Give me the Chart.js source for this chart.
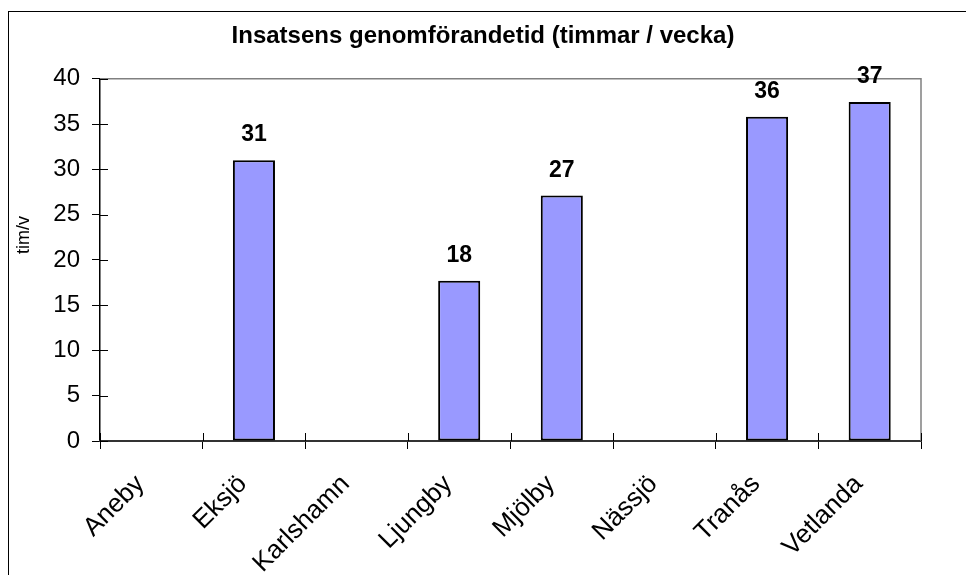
<!DOCTYPE html>
<html>
<head>
<meta charset="utf-8">
<script src="https://cdn.jsdelivr.net/npm/chart.js@4/dist/chart.umd.min.js"></script>
<style>
  html,body{margin:0;padding:0;background:#fff;overflow:hidden}
  #frame{position:absolute;left:8px;top:11px;width:1100px;height:700px;border:1px solid #000}
  #wrap{position:absolute;left:0;top:0;width:966px;height:575px}
</style>
</head>
<body>
<div id="frame"></div>
<div id="wrap"><canvas id="c"></canvas></div>
<script>
// data
const kommuner=['Aneby','Eksjö','Karlshamn','Ljungby','Mjölby','Nässjö','Tranås','Vetlanda'];
const timmar=[null,31,null,17.7,27.1,null,35.8,37.45];
const yTicks=[0,5,10,15,20,25,30,35,40];
const titel='Insatsens genomförandetid (timmar / vecka)';
const yTitel='tim/v';

const FONT='"Liberation Sans", Arial, sans-serif';

// inre tickstreck, ram, y-titel och värdeetiketter
const extras={
  id:'extras',
  afterDraw(chart){
    const ctx=chart.ctx, a=chart.chartArea, x=chart.scales.x, y=chart.scales.y;
    ctx.save();
    // grå ram topp/höger
    ctx.strokeStyle='#808080'; ctx.lineWidth=1.5;
    ctx.beginPath(); ctx.moveTo(a.left,a.top); ctx.lineTo(a.right,a.top); ctx.lineTo(a.right,a.bottom); ctx.stroke();
    // tick inåt
    ctx.strokeStyle='#000'; ctx.lineWidth=1;
    yTicks.forEach(v=>{const py=Math.round(y.getPixelForValue(v))+0.5;
      ctx.beginPath(); ctx.moveTo(a.left,py); ctx.lineTo(a.left+8,py); ctx.stroke();});
    for(let i=0;i<=kommuner.length;i++){
      const px=Math.round(x.getPixelForValue(i-0.5))+0.5;
      ctx.beginPath(); ctx.moveTo(px,a.bottom); ctx.lineTo(px,a.bottom-8); ctx.stroke();
    }
    // y-titel
    ctx.fillStyle='#000'; ctx.font='18px '+FONT; ctx.textAlign='center'; ctx.textBaseline='middle';
    ctx.translate(24,235); ctx.rotate(-Math.PI/2); ctx.fillText(yTitel,0,0);
    ctx.restore();
    // värden
    ctx.save();
    ctx.fillStyle='#000'; ctx.font='bold 23px '+FONT; ctx.textAlign='center'; ctx.textBaseline='alphabetic';
    chart.getDatasetMeta(0).data.forEach((bar,i)=>{
      if(timmar[i]==null)return;
      ctx.fillText(String(Math.round(timmar[i])),bar.x,bar.y-19);
    });
    ctx.restore();
  }
};

new Chart(document.getElementById('c'),{
  type:'bar',
  data:{labels:kommuner,datasets:[{data:timmar,backgroundColor:'#9999FF',borderColor:'#000',borderWidth:2,
    borderSkipped:false,categoryPercentage:1,barPercentage:0.41}]},
  options:{
    responsive:true,maintainAspectRatio:false,animation:false,
    layout:{padding:0},
    plugins:{
      legend:{display:false},tooltip:{enabled:false},
      title:{display:true,text:titel,color:'#000',font:{family:FONT,size:24,weight:'bold'},padding:{top:22,bottom:28}}
    },
    scales:{
      y:{min:0,max:40,
        afterFit(s){s.width=100;},
        afterBuildTicks(s){s.ticks=yTicks.map(v=>({value:v}));},
        ticks:{color:'#000',padding:12,font:{family:FONT,size:24}},
        grid:{drawOnChartArea:false,color:'#000',tickLength:8},
        border:{color:'#000',width:1.5}
      },
      // tom axel till höger som håller marginalen
      y2:{position:'right',display:true,afterFit(s){s.width=45;},
        ticks:{display:false},grid:{display:false},border:{display:false}},
      x:{
        afterFit(s){s.height=134;},
        ticks:{color:'#000',font:{family:FONT,size:26},minRotation:45,maxRotation:45,autoSkip:false,padding:20,labelOffset:-11},
        grid:{offset:true,drawOnChartArea:false,color:'#000',tickLength:8},
        border:{color:'#333',width:2}
      }
    }
  },
  plugins:[extras]
});
</script>
</body>
</html>
